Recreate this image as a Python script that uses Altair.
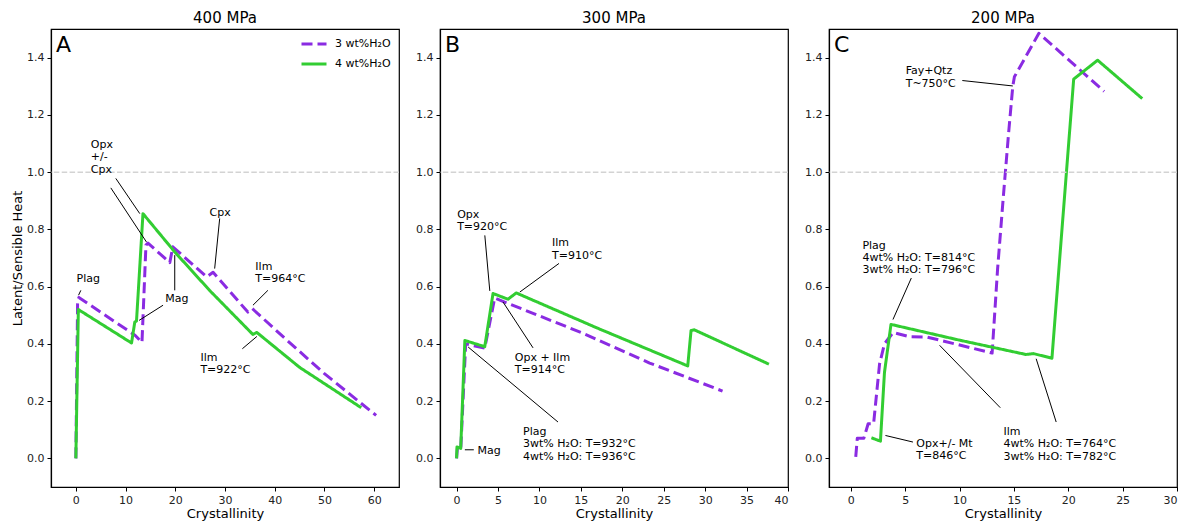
import altair as alt
import pandas as pd

S3 = "3 wt%H₂O"
S4 = "4 wt%H₂O"
PURPLE = "#8a2be2"
GREEN = "#32cd32"
FONT = "DejaVu Sans"

Y_TICKS = [0.0, 0.2, 0.4, 0.6, 0.8, 1.0, 1.2, 1.4]

# ---------------- Panel A : 400 MPa ----------------
a3_x = [0.0, 0.35, 0.6, 11.9, 13.3, 14.1, 14.5, 18.9, 19.5, 26.3, 27.6, 34.6, 35.5, 42.0, 50.0, 60.4]
a3_y = [0.0, 0.545, 0.562, 0.43, 0.405, 0.745, 0.752, 0.684, 0.739, 0.634, 0.65, 0.511, 0.523, 0.42, 0.296, 0.15]
a4_x = [0.0, 0.5, 11.2, 11.85, 12.2, 13.5, 19.9, 27.0, 35.6, 36.4, 45.0, 57.4]
a4_y = [0.0, 0.52, 0.403, 0.476, 0.48, 0.855, 0.721, 0.585, 0.433, 0.44, 0.318, 0.177]

a_lab = ["Plag", "Opx\n+/-\nCpx", "Cpx", "Mag", "Ilm\nT=964°C", "Ilm\nT=922°C"]
a_lab_x = [0.14, 3.01, 26.9, 18.0, 36.1, 25.05]
a_lab_y = [0.649, 1.116, 0.877, 0.578, 0.691, 0.373]
a_seg_x = [1.0, 8.04, 7.03, 28.93, 17.54, 19.89, 38.63, 33.49]
a_seg_y = [0.587, 0.978, 0.945, 0.838, 0.535, 0.587, 0.587, 0.383]
a_seg_x2 = [0.54, 12.86, 14.2, 27.92, 12.72, 19.89, 35.62, 36.42]
a_seg_y2 = [0.570, 0.855, 0.756, 0.663, 0.482, 0.710, 0.535, 0.426]

# ---------------- Panel B : 300 MPa ----------------
b3_x = [0.0, 0.1, 0.5, 1.1, 3.4, 4.6, 15.0, 23.3, 32.1]
b3_y = [0.0, 0.035, 0.03, 0.40, 0.385, 0.56, 0.44, 0.333, 0.235]
b4_x = [0.0, 0.05, 0.5, 1.0, 3.4, 4.4, 6.2, 7.2, 17.0, 27.9, 28.3, 28.7, 37.7]
b4_y = [0.0, 0.04, 0.035, 0.412, 0.39, 0.576, 0.556, 0.578, 0.455, 0.323, 0.447, 0.449, 0.329]

b_lab = ["Opx\nT=920°C", "Ilm\nT=910°C", "Opx + Ilm\nT=914°C",
         "Plag\n3wt% H₂O: T=932°C\n4wt% H₂O: T=936°C", "Mag"]
b_lab_x = [0.07, 11.52, 7.02, 8.02, 2.53]
b_lab_y = [0.872, 0.772, 0.373, 0.114, 0.047]
b_seg_x = [3.41, 12.36, 9.23, 12.24, 1.0]
b_seg_y = [0.779, 0.681, 0.386, 0.127, 0.030]
b_seg_x2 = [4.01, 7.63, 5.61, 1.40, 2.08]
b_seg_y2 = [0.585, 0.581, 0.546, 0.389, 0.030]

# ---------------- Panel C : 200 MPa ----------------
c3_x = [0.46, 0.6, 1.2, 1.6, 2.1, 2.65, 3.1, 3.9, 5.4, 7.0, 13.0, 13.5, 14.0, 14.5, 14.9, 15.05, 17.3, 23.3]
c3_y = [0.005, 0.07, 0.07, 0.121, 0.121, 0.33, 0.40, 0.44, 0.425, 0.424, 0.368, 0.66, 0.90, 1.13, 1.30, 1.333, 1.485, 1.282]
c4_x = [1.9, 2.73, 3.1, 3.7, 10.0, 16.1, 16.8, 18.5, 20.5, 22.7, 26.8]
c4_y = [0.072, 0.06, 0.30, 0.468, 0.413, 0.363, 0.366, 0.35, 1.325, 1.391, 1.257]

c_lab = ["Fay+Qtz\nT~750°C", "Plag\n4wt% H₂O: T=814°C\n3wt% H₂O: T=796°C",
         "Opx+/- Mt\nT=846°C", "Ilm\n4wt% H₂O: T=764°C\n3wt% H₂O: T=782°C"]
c_lab_x = [5.05, 1.07, 6.03, 14.05]
c_lab_y = [1.373, 0.764, 0.071, 0.114]
c_seg_x = [10.26, 5.57, 5.72, 13.75, 18.89]
c_seg_y = [1.320, 0.630, 0.057, 0.177, 0.127]
c_seg_x2 = [14.9, 3.88, 3.19, 8.17, 17.05]
c_seg_y2 = [1.301, 0.485, 0.080, 0.395, 0.348]


def series_df(xs, ys, name):
    return pd.DataFrame({"x": xs, "y": ys, "series": name, "i": list(range(len(xs)))})


def panel(title, letter, xdom, xticks, d3, d4, lab, lx, ly, sx, sy, sx2, sy2, first):
    lines_df = pd.concat([series_df(d3[0], d3[1], S3), series_df(d4[0], d4[1], S4)],
                         ignore_index=True)
    xs = alt.Scale(domain=xdom, nice=False, zero=False)
    ys = alt.Scale(domain=[-0.1, 1.5], nice=False, zero=False)
    xax = alt.Axis(values=xticks, format="d", title="Crystallinity", grid=False)
    yax = alt.Axis(values=Y_TICKS, format=".1f", grid=False,
                   title=("Latent/Sensible Heat" if first else ""))

    X = alt.X("x:Q", scale=xs, axis=xax)
    Y = alt.Y("y:Q", scale=ys, axis=yax)

    cscale = alt.Scale(domain=[S3, S4], range=[PURPLE, GREEN])
    dscale = alt.Scale(domain=[S3, S4], range=[[11, 5], [1, 0]])
    if first:
        leg = alt.Legend(title=None, orient="none", legendX=249, legendY=1, padding=0,
                         symbolType="stroke", symbolSize=625, symbolStrokeWidth=3,
                         labelFontSize=11, labelOffset=7, rowPadding=-11, labelFont=FONT,
                         labelColor="black")
    else:
        leg = None

    lines = alt.Chart(lines_df).mark_line(strokeWidth=3, strokeJoin="round", clip=True).encode(
        x=X, y=Y,
        color=alt.Color("series:N", scale=cscale, legend=leg),
        strokeDash=alt.StrokeDash("series:N", scale=dscale, legend=leg),
        order="i:Q",
    )

    ref = alt.Chart(pd.DataFrame({"y": [1.0]})).mark_rule(
        color="#d3d3d3", strokeWidth=1.5, strokeDash=[5.5, 2.4]
    ).encode(y=Y)

    seg_df = pd.DataFrame({"x": sx, "y": sy, "x2": sx2, "y2": sy2})
    segs = alt.Chart(seg_df).mark_rule(color="black", strokeWidth=1).encode(
        x=X, y=Y, x2="x2:Q", y2="y2:Q",
    )

    lab_df = pd.DataFrame({"x": lx, "y": ly, "t": lab})
    texts = alt.Chart(lab_df).mark_text(
        align="left", baseline="top", lineBreak="\n", lineHeight=12.4,
        fontSize=11, font=FONT, color="black"
    ).encode(x=X, y=Y, text="t:N")

    let = alt.Chart(pd.DataFrame({"t": [letter]})).mark_text(
        align="left", baseline="top", fontSize=22, font=FONT, color="black"
    ).encode(x=alt.value(5), y=alt.value(6), text="t:N")

    return alt.layer(lines, ref, segs, texts, let).properties(
        width=348, height=458,
        view=alt.ViewBackground(stroke="black", strokeWidth=1.2, fill="white"),
        title=alt.TitleParams(title, fontSize=15, fontWeight="normal", font=FONT,
                              color="black", offset=3, anchor="middle"),
    )


pa = panel("400 MPa", "A", [-5, 65], [0, 10, 20, 30, 40, 50, 60], (a3_x, a3_y), (a4_x, a4_y),
           a_lab, a_lab_x, a_lab_y, a_seg_x, a_seg_y, a_seg_x2, a_seg_y2, True)
pb = panel("300 MPa", "B", [-2, 40], [0, 5, 10, 15, 20, 25, 30, 35, 40], (b3_x, b3_y), (b4_x, b4_y),
           b_lab, b_lab_x, b_lab_y, b_seg_x, b_seg_y, b_seg_x2, b_seg_y2, False)
pc = panel("200 MPa", "C", [-2, 30], [0, 5, 10, 15, 20, 25, 30], (c3_x, c3_y), (c4_x, c4_y),
           c_lab, c_lab_x, c_lab_y, c_seg_x, c_seg_y, c_seg_x2, c_seg_y2, False)

chart = alt.hconcat(pa, pb, pc, spacing=41, bounds="flush").resolve_scale(
    x="independent", y="independent", color="independent", strokeDash="independent"
).resolve_legend(
    color="independent", strokeDash="independent"
).properties(
    padding={"left": 10, "top": 10, "right": 5, "bottom": 5}, background="white"
).configure(
    font=FONT
).configure_view(
    stroke="black", strokeWidth=1.2
).configure_axis(
    grid=False, domainColor="black", domainWidth=1.2, tickColor="black", tickSize=4,
    tickWidth=1, labelFontSize=11, labelColor="#222222", labelFont=FONT, labelPadding=3,
    titleFontSize=13, titleFontWeight="normal", titleColor="black", titleFont=FONT,
    titlePadding=2
)

chart.save("out.html", embed_options={"renderer": "svg", "actions": False})
